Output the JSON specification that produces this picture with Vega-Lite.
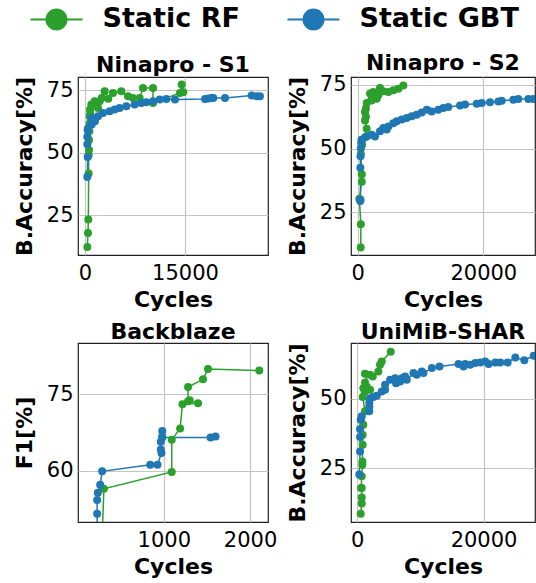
{
  "$schema": "https://vega.github.io/schema/vega-lite/v6.json",
  "padding": {"left": 12, "top": 5, "right": 0, "bottom": 0},
  "background": "white",
  "config": {
    "font": "DejaVu Sans",
    "view": {"stroke": "#222", "strokeWidth": 1.2},
    "axis": {"grid": true, "gridColor": "#c4c4c4", "gridWidth": 1.2, "domain": false, "ticks": false,
      "labelFontSize": 21, "labelColor": "#000", "labelFont": "DejaVu Sans", "labelFlush": false, "labelOverlap": false,
      "titleFontSize": 22, "titleFontWeight": "bold", "titleColor": "#000", "titleFont": "DejaVu Sans"},
    "axisX": {"labelPadding": 7, "titlePadding": 6},
    "axisY": {"labelPadding": 5, "titlePadding": 10},
    "title": {"fontSize": 22, "fontWeight": "bold", "color": "#000", "offset": -1, "font": "DejaVu Sans"},
    "legend": {"orient": "none", "legendX": -35.5, "legendY": -72, "padding": 0, "direction": "horizontal", "labelFontSize": 27, "labelFontWeight": "bold", "labelColor": "#000",
      "labelFont": "DejaVu Sans", "labelLimit": 400, "symbolType": "M-2,0L2,0M-0.77,0A0.77,0.77,0,1,1,0.77,0A0.77,0.77,0,1,1,-0.77,0Z",
      "symbolSize": 676, "symbolStrokeWidth": 2, "labelOffset": 32, "columnPadding": 43}
  },
  "datasets": {
    "d": [
      {"p":"S1","m":"Static RF","x":350,"y":12.2},{"p":"S1","m":"Static RF","x":450,"y":17.8},{"p":"S1","m":"Static RF","x":500,"y":23.2},{"p":"S1","m":"Static RF","x":550,"y":41.6},{"p":"S1","m":"Static RF","x":550,"y":48.9},{"p":"S1","m":"Static RF","x":600,"y":51},{"p":"S1","m":"Static RF","x":600,"y":55},{"p":"S1","m":"Static RF","x":650,"y":58.5},{"p":"S1","m":"Static RF","x":700,"y":61.6},{"p":"S1","m":"Static RF","x":700,"y":64.5},{"p":"S1","m":"Static RF","x":800,"y":65.8},{"p":"S1","m":"Static RF","x":750,"y":67.2},{"p":"S1","m":"Static RF","x":950,"y":69.2},{"p":"S1","m":"Static RF","x":1450,"y":70.5},{"p":"S1","m":"Static RF","x":1950,"y":67.8},{"p":"S1","m":"Static RF","x":2200,"y":70.5},{"p":"S1","m":"Static RF","x":2500,"y":71.8},{"p":"S1","m":"Static RF","x":2950,"y":74.5},{"p":"S1","m":"Static RF","x":3500,"y":71.5},{"p":"S1","m":"Static RF","x":4200,"y":73.8},{"p":"S1","m":"Static RF","x":5450,"y":74.5},{"p":"S1","m":"Static RF","x":6450,"y":72.5},{"p":"S1","m":"Static RF","x":7200,"y":71.8},{"p":"S1","m":"Static RF","x":8200,"y":71.8},{"p":"S1","m":"Static RF","x":8700,"y":75.8},{"p":"S1","m":"Static RF","x":10200,"y":75.8},{"p":"S1","m":"Static RF","x":10200,"y":69.8},{"p":"S1","m":"Static RF","x":14250,"y":73.8},{"p":"S1","m":"Static RF","x":14500,"y":77.2},{"p":"S1","m":"Static RF","x":14750,"y":74.1},
      {"p":"S1","m":"Static GBT","x":350,"y":40.2},{"p":"S1","m":"Static GBT","x":400,"y":48.2},{"p":"S1","m":"Static GBT","x":350,"y":53.3},{"p":"S1","m":"Static GBT","x":350,"y":56.3},{"p":"S1","m":"Static GBT","x":400,"y":58.9},{"p":"S1","m":"Static GBT","x":450,"y":59.6},{"p":"S1","m":"Static GBT","x":1000,"y":61.2},{"p":"S1","m":"Static GBT","x":1000,"y":61.8},{"p":"S1","m":"Static GBT","x":1500,"y":62.5},{"p":"S1","m":"Static GBT","x":1200,"y":63.2},{"p":"S1","m":"Static GBT","x":950,"y":63.8},{"p":"S1","m":"Static GBT","x":1950,"y":64.5},{"p":"S1","m":"Static GBT","x":2700,"y":65.8},{"p":"S1","m":"Static GBT","x":3700,"y":66.5},{"p":"S1","m":"Static GBT","x":4450,"y":67.2},{"p":"S1","m":"Static GBT","x":5200,"y":67.8},{"p":"S1","m":"Static GBT","x":6200,"y":68.5},{"p":"S1","m":"Static GBT","x":7450,"y":69.2},{"p":"S1","m":"Static GBT","x":8450,"y":69.8},{"p":"S1","m":"Static GBT","x":9200,"y":70.1},{"p":"S1","m":"Static GBT","x":10200,"y":70.5},{"p":"S1","m":"Static GBT","x":11200,"y":71.2},{"p":"S1","m":"Static GBT","x":12200,"y":71.4},{"p":"S1","m":"Static GBT","x":13500,"y":71.2},{"p":"S1","m":"Static GBT","x":18000,"y":71.4},{"p":"S1","m":"Static GBT","x":18500,"y":71.6},{"p":"S1","m":"Static GBT","x":19000,"y":71.8},{"p":"S1","m":"Static GBT","x":19250,"y":71.8},{"p":"S1","m":"Static GBT","x":21000,"y":71.8},{"p":"S1","m":"Static GBT","x":25000,"y":72.8},{"p":"S1","m":"Static GBT","x":25750,"y":72.5},{"p":"S1","m":"Static GBT","x":26250,"y":72.5},
      {"p":"S2","m":"Static RF","x":480,"y":11.2},{"p":"S2","m":"Static RF","x":500,"y":20.4},{"p":"S2","m":"Static RF","x":260,"y":30.4},{"p":"S2","m":"Static RF","x":650,"y":37},{"p":"S2","m":"Static RF","x":650,"y":40},{"p":"S2","m":"Static RF","x":500,"y":48},{"p":"S2","m":"Static RF","x":700,"y":51.5},{"p":"S2","m":"Static RF","x":700,"y":53.5},{"p":"S2","m":"Static RF","x":1160,"y":54.5},{"p":"S2","m":"Static RF","x":1430,"y":57.8},{"p":"S2","m":"Static RF","x":1160,"y":61},{"p":"S2","m":"Static RF","x":1300,"y":62.5},{"p":"S2","m":"Static RF","x":1160,"y":64.4},{"p":"S2","m":"Static RF","x":1300,"y":65.7},{"p":"S2","m":"Static RF","x":1430,"y":67.9},{"p":"S2","m":"Static RF","x":1960,"y":71.6},{"p":"S2","m":"Static RF","x":2230,"y":68.9},{"p":"S2","m":"Static RF","x":2480,"y":72.2},{"p":"S2","m":"Static RF","x":2750,"y":71.2},{"p":"S2","m":"Static RF","x":3020,"y":69.6},{"p":"S2","m":"Static RF","x":3280,"y":70.9},{"p":"S2","m":"Static RF","x":3550,"y":73.8},{"p":"S2","m":"Static RF","x":4080,"y":72.5},{"p":"S2","m":"Static RF","x":4870,"y":72.2},{"p":"S2","m":"Static RF","x":5670,"y":72.9},{"p":"S2","m":"Static RF","x":6470,"y":73.5},{"p":"S2","m":"Static RF","x":7260,"y":74.8},
      {"p":"S2","m":"Static GBT","x":400,"y":29.5},{"p":"S2","m":"Static GBT","x":450,"y":30},{"p":"S2","m":"Static GBT","x":420,"y":42.5},{"p":"S2","m":"Static GBT","x":450,"y":47},{"p":"S2","m":"Static GBT","x":500,"y":50.2},{"p":"S2","m":"Static GBT","x":550,"y":52.2},{"p":"S2","m":"Static GBT","x":600,"y":53.5},{"p":"S2","m":"Static GBT","x":1430,"y":54.8},{"p":"S2","m":"Static GBT","x":2230,"y":55.5},{"p":"S2","m":"Static GBT","x":2750,"y":54.8},{"p":"S2","m":"Static GBT","x":3550,"y":56.8},{"p":"S2","m":"Static GBT","x":4080,"y":58.1},{"p":"S2","m":"Static GBT","x":4610,"y":57.5},{"p":"S2","m":"Static GBT","x":4870,"y":58.7},{"p":"S2","m":"Static GBT","x":5670,"y":60},{"p":"S2","m":"Static GBT","x":6210,"y":60.7},{"p":"S2","m":"Static GBT","x":7010,"y":61.4},{"p":"S2","m":"Static GBT","x":7800,"y":62},{"p":"S2","m":"Static GBT","x":8600,"y":62.7},{"p":"S2","m":"Static GBT","x":9390,"y":63.3},{"p":"S2","m":"Static GBT","x":10190,"y":64.2},{"p":"S2","m":"Static GBT","x":11000,"y":65.3},{"p":"S2","m":"Static GBT","x":11780,"y":64.6},{"p":"S2","m":"Static GBT","x":12840,"y":65.3},{"p":"S2","m":"Static GBT","x":13630,"y":65.9},{"p":"S2","m":"Static GBT","x":14430,"y":66.3},{"p":"S2","m":"Static GBT","x":16290,"y":66.9},{"p":"S2","m":"Static GBT","x":17090,"y":67.3},{"p":"S2","m":"Static GBT","x":18950,"y":67.6},{"p":"S2","m":"Static GBT","x":19750,"y":67.9},{"p":"S2","m":"Static GBT","x":21070,"y":68.2},{"p":"S2","m":"Static GBT","x":22390,"y":68.5},{"p":"S2","m":"Static GBT","x":22930,"y":68.8},{"p":"S2","m":"Static GBT","x":24780,"y":69.2},{"p":"S2","m":"Static GBT","x":25570,"y":69.5},{"p":"S2","m":"Static GBT","x":27170,"y":69.5},{"p":"S2","m":"Static GBT","x":27960,"y":69.5},{"p":"S2","m":"Static GBT","x":29000,"y":69.7},
      {"p":"BB","m":"Static RF","x":281,"y":45},{"p":"BB","m":"Static RF","x":305,"y":56.5},{"p":"BB","m":"Static RF","x":1092,"y":59.8},{"p":"BB","m":"Static RF","x":1092,"y":66.1},{"p":"BB","m":"Static RF","x":1189,"y":68.3},{"p":"BB","m":"Static RF","x":1216,"y":73},{"p":"BB","m":"Static RF","x":1397,"y":73.2},{"p":"BB","m":"Static RF","x":1300,"y":73.8},{"p":"BB","m":"Static RF","x":1281,"y":73.6},{"p":"BB","m":"Static RF","x":1281,"y":76.4},{"p":"BB","m":"Static RF","x":1454,"y":77.9},{"p":"BB","m":"Static RF","x":1512,"y":79.9},{"p":"BB","m":"Static RF","x":2107,"y":79.6},
      {"p":"BB","m":"Static GBT","x":227,"y":45},{"p":"BB","m":"Static GBT","x":227,"y":51.6},{"p":"BB","m":"Static GBT","x":227,"y":54.3},{"p":"BB","m":"Static GBT","x":235,"y":55.7},{"p":"BB","m":"Static GBT","x":262,"y":57.3},{"p":"BB","m":"Static GBT","x":285,"y":59.9},{"p":"BB","m":"Static GBT","x":843,"y":61.2},{"p":"BB","m":"Static GBT","x":927,"y":61.2},{"p":"BB","m":"Static GBT","x":973,"y":63.5},{"p":"BB","m":"Static GBT","x":965,"y":64.2},{"p":"BB","m":"Static GBT","x":965,"y":65.7},{"p":"BB","m":"Static GBT","x":982,"y":66.7},{"p":"BB","m":"Static GBT","x":982,"y":67.8},{"p":"BB","m":"Static GBT","x":982,"y":66.5},{"p":"BB","m":"Static GBT","x":1542,"y":66.5},{"p":"BB","m":"Static GBT","x":1600,"y":66.7},
      {"p":"UM","m":"Static RF","x":540,"y":8.8},{"p":"UM","m":"Static RF","x":700,"y":12.4},{"p":"UM","m":"Static RF","x":700,"y":14.6},{"p":"UM","m":"Static RF","x":700,"y":18},{"p":"UM","m":"Static RF","x":600,"y":18},{"p":"UM","m":"Static RF","x":700,"y":22.2},{"p":"UM","m":"Static RF","x":800,"y":26.3},{"p":"UM","m":"Static RF","x":800,"y":27.5},{"p":"UM","m":"Static RF","x":850,"y":33.5},{"p":"UM","m":"Static RF","x":850,"y":37.1},{"p":"UM","m":"Static RF","x":950,"y":40.7},{"p":"UM","m":"Static RF","x":1220,"y":45.5},{"p":"UM","m":"Static RF","x":860,"y":50.6},{"p":"UM","m":"Static RF","x":1220,"y":52.6},{"p":"UM","m":"Static RF","x":950,"y":53.8},{"p":"UM","m":"Static RF","x":1490,"y":54.4},{"p":"UM","m":"Static RF","x":1220,"y":55.8},{"p":"UM","m":"Static RF","x":2020,"y":53.2},{"p":"UM","m":"Static RF","x":1220,"y":59},{"p":"UM","m":"Static RF","x":2020,"y":58.6},{"p":"UM","m":"Static RF","x":2440,"y":58},{"p":"UM","m":"Static RF","x":3330,"y":59.8},{"p":"UM","m":"Static RF","x":3600,"y":62.2},{"p":"UM","m":"Static RF","x":3870,"y":63.4},{"p":"UM","m":"Static RF","x":5300,"y":66.9},
      {"p":"UM","m":"Static GBT","x":320,"y":22.8},{"p":"UM","m":"Static GBT","x":430,"y":31.1},{"p":"UM","m":"Static GBT","x":430,"y":36.3},{"p":"UM","m":"Static GBT","x":430,"y":39.2},{"p":"UM","m":"Static GBT","x":540,"y":42.5},{"p":"UM","m":"Static GBT","x":700,"y":43.7},{"p":"UM","m":"Static GBT","x":1900,"y":45.5},{"p":"UM","m":"Static GBT","x":1900,"y":47.2},{"p":"UM","m":"Static GBT","x":1900,"y":48.7},{"p":"UM","m":"Static GBT","x":2020,"y":50.2},{"p":"UM","m":"Static GBT","x":2540,"y":50.6},{"p":"UM","m":"Static GBT","x":3080,"y":51.1},{"p":"UM","m":"Static GBT","x":3870,"y":52.6},{"p":"UM","m":"Static GBT","x":4400,"y":53.2},{"p":"UM","m":"Static GBT","x":4400,"y":55},{"p":"UM","m":"Static GBT","x":5190,"y":56.8},{"p":"UM","m":"Static GBT","x":5980,"y":57.4},{"p":"UM","m":"Static GBT","x":6140,"y":55.6},{"p":"UM","m":"Static GBT","x":6780,"y":56.2},{"p":"UM","m":"Static GBT","x":7040,"y":57.4},{"p":"UM","m":"Static GBT","x":7570,"y":58},{"p":"UM","m":"Static GBT","x":7840,"y":56.8},{"p":"UM","m":"Static GBT","x":8890,"y":59.2},{"p":"UM","m":"Static GBT","x":9420,"y":58.6},{"p":"UM","m":"Static GBT","x":10220,"y":59.8},{"p":"UM","m":"Static GBT","x":10480,"y":59.2},{"p":"UM","m":"Static GBT","x":11810,"y":61},{"p":"UM","m":"Static GBT","x":13020,"y":61.6},{"p":"UM","m":"Static GBT","x":16030,"y":62.5},{"p":"UM","m":"Static GBT","x":16830,"y":61.6},{"p":"UM","m":"Static GBT","x":17090,"y":62.5},{"p":"UM","m":"Static GBT","x":17890,"y":62.2},{"p":"UM","m":"Static GBT","x":18680,"y":62.8},{"p":"UM","m":"Static GBT","x":19480,"y":63},{"p":"UM","m":"Static GBT","x":20270,"y":63.4},{"p":"UM","m":"Static GBT","x":20800,"y":62.5},{"p":"UM","m":"Static GBT","x":21860,"y":63},{"p":"UM","m":"Static GBT","x":22650,"y":63},{"p":"UM","m":"Static GBT","x":23810,"y":63},{"p":"UM","m":"Static GBT","x":25030,"y":64.8},{"p":"UM","m":"Static GBT","x":26460,"y":63.8},{"p":"UM","m":"Static GBT","x":27940,"y":65.4},{"p":"UM","m":"Static GBT","x":29000,"y":65.8}
    ]
  },
  "columns": 2,
  "bounds": "flush",
  "spacing": {"row": 88, "column": 83},
  "resolve": {"scale": {"color": "shared"}},
  "concat": [
    {
      "title": "Ninapro - S1", "width": 190, "height": 178,
      "data": {"name": "d"},
      "transform": [{"filter": "datum.p == 'S1'"}],
      "encoding": {
        "x": {"field": "x", "type": "quantitative", "scale": {"domain": [-1050, 27450], "nice": false, "zero": false}, "axis": {"values": [0, 15000], "format": "d", "title": "Cycles"}},
        "y": {"field": "y", "type": "quantitative", "scale": {"domain": [9, 80.2], "nice": false, "zero": false}, "axis": {"values": [25, 50, 75], "title": "B.Accuracy[%]"}},
        "color": {"field": "m", "type": "nominal", "scale": {"domain": ["Static RF", "Static GBT"], "range": ["#2ca02c", "#1f77b4"]},
          "legend": {"title": null, "encode": {"symbols": {"update": {"fill": {"scale": "color", "field": "value"}, "stroke": {"scale": "color", "field": "value"}, "strokeWidth": {"value": 2}, "opacity": {"value": 1}}}}}}
      },
      "layer": [
        {"mark": {"type": "line", "strokeWidth": 1.5, "clip": true}, "encoding": {"order": {"value": null}}},
        {"mark": {"type": "point", "filled": true, "size": 64, "opacity": 1, "clip": true}}
      ]
    },
    {
      "title": "Ninapro - S2", "width": 184, "height": 178,
      "data": {"name": "d"},
      "transform": [{"filter": "datum.p == 'S2'"}],
      "encoding": {
        "x": {"field": "x", "type": "quantitative", "scale": {"domain": [-1070, 28230], "nice": false, "zero": false}, "axis": {"values": [0, 20000], "format": "d", "title": "Cycles"}},
        "y": {"field": "y", "type": "quantitative", "scale": {"domain": [8.3, 78.1], "nice": false, "zero": false}, "axis": {"values": [25, 50, 75], "title": "B.Accuracy[%]"}},
        "color": {"field": "m", "type": "nominal", "scale": {"domain": ["Static RF", "Static GBT"], "range": ["#2ca02c", "#1f77b4"]}, "legend": {"title": null}}
      },
      "layer": [
        {"mark": {"type": "line", "strokeWidth": 1.5, "clip": true}, "encoding": {"order": {"value": null}}},
        {"mark": {"type": "point", "filled": true, "size": 64, "opacity": 1, "clip": true}}
      ]
    },
    {
      "title": "Backblaze", "width": 190, "height": 179,
      "data": {"name": "d"},
      "transform": [{"filter": "datum.p == 'BB'"}],
      "encoding": {
        "x": {"field": "x", "type": "quantitative", "scale": {"domain": [5, 2208], "nice": false, "zero": false}, "axis": {"values": [1000, 2000], "format": "d", "title": "Cycles"}},
        "y": {"field": "y", "type": "quantitative", "scale": {"domain": [50, 85], "nice": false, "zero": false}, "axis": {"values": [60, 75], "title": "F1[%]"}},
        "color": {"field": "m", "type": "nominal", "scale": {"domain": ["Static RF", "Static GBT"], "range": ["#2ca02c", "#1f77b4"]}, "legend": {"title": null}}
      },
      "layer": [
        {"mark": {"type": "line", "strokeWidth": 1.5, "clip": true}, "encoding": {"order": {"value": null}}},
        {"mark": {"type": "point", "filled": true, "size": 64, "opacity": 1, "clip": true}}
      ]
    },
    {
      "title": "UniMiB-SHAR", "width": 184, "height": 179,
      "data": {"name": "d"},
      "transform": [{"filter": "datum.p == 'UM'"}],
      "encoding": {
        "x": {"field": "x", "type": "quantitative", "scale": {"domain": [-1000, 28150], "nice": false, "zero": false}, "axis": {"values": [0, 20000], "format": "d", "title": "Cycles"}},
        "y": {"field": "y", "type": "quantitative", "scale": {"domain": [5.8, 70], "nice": false, "zero": false}, "axis": {"values": [25, 50], "title": "B.Accuracy[%]"}},
        "color": {"field": "m", "type": "nominal", "scale": {"domain": ["Static RF", "Static GBT"], "range": ["#2ca02c", "#1f77b4"]}, "legend": {"title": null}}
      },
      "layer": [
        {"mark": {"type": "line", "strokeWidth": 1.5, "clip": true}, "encoding": {"order": {"value": null}}},
        {"mark": {"type": "point", "filled": true, "size": 64, "opacity": 1, "clip": true}}
      ]
    }
  ]
}
